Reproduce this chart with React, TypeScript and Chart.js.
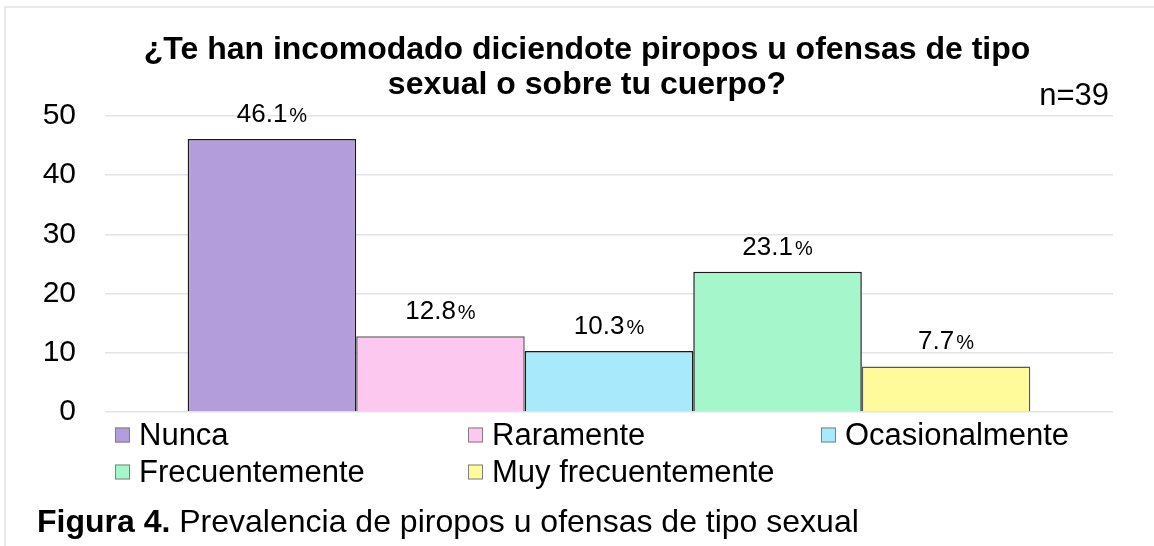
import React, { useEffect, useRef } from "react";
import { Chart, registerables } from "chart.js";

Chart.register(...registerables);

const titleLines = [
  "¿Te han incomodado diciendote piropos u ofensas de tipo",
  "sexual o sobre tu cuerpo?",
];
const sampleNote = "n=39";
const categories = ["Nunca", "Raramente", "Ocasionalmente", "Frecuentemente", "Muy frecuentemente"];
const barValues = [46.1, 12.8, 10.3, 23.7, 7.7];
const labelValues = [46.1, 12.8, 10.3, 23.1, 7.7];
const fillColors = ["#b39ddb", "#fdc8ef", "#a8e9fb", "#a6f6cc", "#fffb9b"];
const borderColors = ["#1a1a1a", "#595959", "#1a1a1a", "#1a1a1a", "#595959"];
const yTicks = [0, 10, 20, 30, 40, 50];
const captionBold = "Figura 4.";
const captionText = " Prevalencia de piropos u ofensas de tipo sexual";

const FONT = '"Liberation Sans", Arial, sans-serif';

const decorPlugin = {
  id: "decor",
  beforeDraw(chart: any) {
    const ctx = chart.ctx;
    ctx.save();
    ctx.fillStyle = "#ffffff";
    ctx.fillRect(0, 0, chart.width, chart.height);
    ctx.strokeStyle = "#e4e4e4";
    ctx.lineWidth = 1.5;
    ctx.beginPath();
    ctx.moveTo(5, chart.height);
    ctx.lineTo(5, 7);
    ctx.lineTo(chart.width, 7);
    ctx.stroke();
    ctx.restore();
  },
  afterDraw(chart: any) {
    const ctx = chart.ctx;
    const area = chart.chartArea;
    ctx.save();
    ctx.fillStyle = "#000000";
    ctx.textBaseline = "alphabetic";
    // title
    ctx.font = `bold 32px ${FONT}`;
    ctx.textAlign = "center";
    const cx = 587;
    ctx.fillText(titleLines[0], cx, 59);
    ctx.fillText(titleLines[1], cx, 94);
    // n note
    ctx.font = `31px ${FONT}`;
    ctx.textAlign = "right";
    ctx.fillText(sampleNote, area.right - 4, area.top - 11);

    // legend
    const colW = 353;
    const startX = area.left + 10;
    const rows = [area.bottom + 23, area.bottom + 60];
    ctx.font = `31px ${FONT}`;
    ctx.textAlign = "left";
    ctx.textBaseline = "middle";
    chart.data.datasets.forEach((ds: any, i: number) => {
      const col = i % 3;
      const row = Math.floor(i / 3);
      const x = startX + col * colW;
      const y = rows[row];
      ctx.fillStyle = ds.backgroundColor;
      ctx.fillRect(x, y - 7.5, 15, 15);
      ctx.strokeStyle = "#7f7f7f";
      ctx.lineWidth = 1;
      ctx.strokeRect(x + 0.5, y - 7, 14, 14);
      ctx.fillStyle = "#000000";
      ctx.fillText(ds.label, x + 24, y + 1);
    });

    // caption
    ctx.textBaseline = "alphabetic";
    ctx.font = `bold 32px ${FONT}`;
    const capX = 37;
    const capY = 532;
    ctx.fillText(captionBold, capX, capY);
    const w = ctx.measureText(captionBold).width;
    ctx.font = `32px ${FONT}`;
    ctx.fillText(captionText, capX + w, capY);
    ctx.restore();
  },
};

const barLabelPlugin = {
  id: "barLabels",
  afterDatasetsDraw(chart: any) {
    const ctx = chart.ctx;
    ctx.save();
    ctx.fillStyle = "#000000";
    ctx.textBaseline = "alphabetic";
    ctx.textAlign = "left";
    chart.data.datasets.forEach((ds: any, i: number) => {
      const meta = chart.getDatasetMeta(i);
      const bar = meta.data[0];
      if (!bar) return;
      const num = labelValues[i].toFixed(1);
      ctx.font = `26px ${FONT}`;
      const w1 = ctx.measureText(num).width;
      ctx.font = `20px ${FONT}`;
      const w2 = ctx.measureText("%").width;
      const total = w1 + 2 + w2;
      const x0 = bar.x - total / 2;
      const y = bar.y - 17;
      ctx.font = `26px ${FONT}`;
      ctx.fillText(num, x0, y);
      ctx.font = `20px ${FONT}`;
      ctx.fillText("%", x0 + w1 + 2, y);
    });
    ctx.restore();
  },
};

export default function App() {
  const ref = useRef<HTMLCanvasElement | null>(null);
  useEffect(() => {
    if (!ref.current) return;
    const chart = new Chart(ref.current, {
      type: "bar",
      data: {
        labels: [""],
        datasets: categories.map((c, i) => ({
          label: c,
          data: [barValues[i]],
          backgroundColor: fillColors[i],
          borderColor: borderColors[i],
          borderWidth: 1.5,
          categoryPercentage: 0.836,
          barPercentage: 1,
        })),
      },
      options: {
        responsive: false,
        animation: false,
        layout: { padding: { left: 0, right: 41, top: 116, bottom: 134 } },
        plugins: {
          legend: { display: false },
          title: { display: false },
          tooltip: { enabled: false },
        },
        scales: {
          x: { display: false },
          y: {
            min: yTicks[0],
            max: yTicks[yTicks.length - 1],
            afterFit(scale: any) {
              scale.width = 105;
            },
            afterBuildTicks(scale: any) {
              scale.ticks = yTicks.map((v) => ({ value: v }));
            },
            border: { display: false },
            grid: { color: "#e1e4e9", lineWidth: 1.5, drawTicks: false },
            ticks: {
              padding: 29,
              color: "#000000",
              font: { family: FONT, size: 30 },
            },
          },
        },
      },
      plugins: [decorPlugin, barLabelPlugin],
    });
    return () => chart.destroy();
  }, []);
  return (
    <div style={{ position: "fixed", left: 0, top: 0, width: 1154, height: 546 }}>
      <canvas ref={ref} width={1154} height={546} style={{ width: 1154, height: 546 }} />
    </div>
  );
}
